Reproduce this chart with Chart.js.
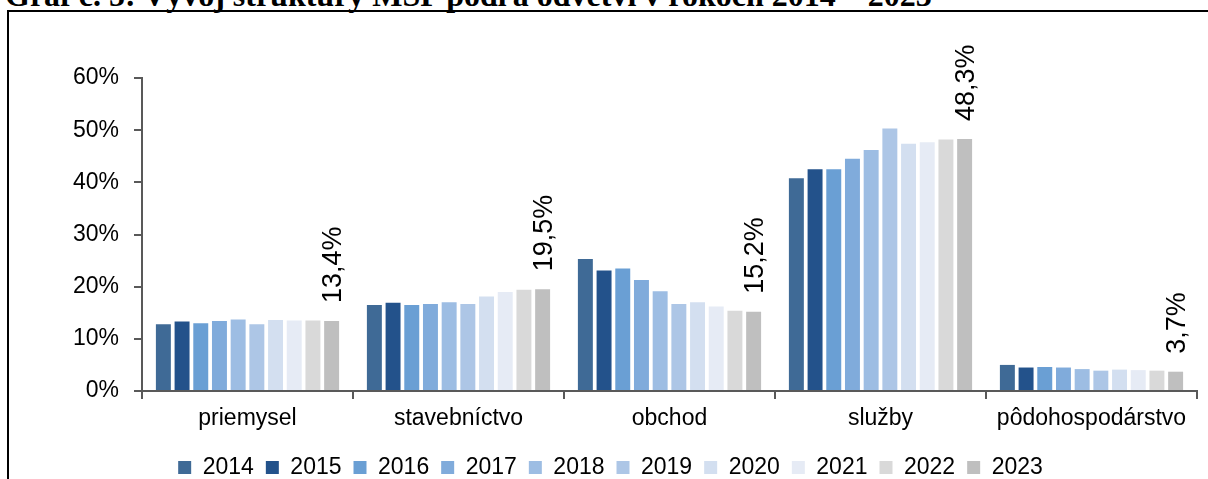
<!DOCTYPE html>
<html>
<head>
<meta charset="utf-8">
<script src="https://cdn.jsdelivr.net/npm/chart.js@4.4.1/dist/chart.umd.min.js"></script>
<style>
  html, body { margin: 0; padding: 0; background: #fff; overflow: hidden; }
  #wrap { position: relative; width: 1208px; height: 479px; overflow: hidden; }
  #title {
    position: absolute; left: 5px; top: -23px; white-space: nowrap;
    font: bold 32px "Liberation Serif", "Times New Roman", serif; color: #000;
  }
  #frame {
    position: absolute; left: 7px; top: 10px; width: 1400px; height: 600px;
    border-left: 2px solid #000; border-top: 2px solid #000;
  }
  #graf { position: absolute; left: 0; top: 0; }
</style>
</head>
<body>
<div id="wrap">
  <div id="title">Graf č. 5: Vývoj štruktúry MSP podľa odvetví v rokoch 2014 – 2023</div>
  <div id="frame"></div>
  <canvas id="graf" width="1208" height="489"></canvas>
</div>
<script>
const odvetvia = ['priemysel', 'stavebníctvo', 'obchod', 'služby', 'pôdohospodárstvo'];
const roky = ['2014', '2015', '2016', '2017', '2018', '2019', '2020', '2021', '2022', '2023'];

// podiel odvetvi v % podla rokov (priemysel, stavebnictvo, obchod, sluzby, podohospodarstvo)
const r2014 = [12.8, 16.5, 25.3, 40.8, 5.0];
const r2015 = [13.3, 16.9, 23.1, 42.5, 4.5];
const r2016 = [13.0, 16.5, 23.5, 42.5, 4.6];
const r2017 = [13.4, 16.7, 21.3, 44.5, 4.5];
const r2018 = [13.7, 17.0, 19.1, 46.2, 4.2];
const r2019 = [12.8, 16.7, 16.7, 50.3, 3.9];
const r2020 = [13.6, 18.1, 17.0, 47.4, 4.1];
const r2021 = [13.5, 19.0, 16.2, 47.7, 4.0];
const r2022 = [13.5, 19.4, 15.4, 48.2, 3.9];
const r2023 = [13.4, 19.5, 15.2, 48.3, 3.7];

const hodnoty = [r2014, r2015, r2016, r2017, r2018, r2019, r2020, r2021, r2022, r2023];
const farby = ['#3f6a96', '#23528b', '#6a9fd4', '#80abdb', '#9dbde3',
               '#adc6e6', '#d3dff0', '#e6ebf5', '#d9d9d9', '#bfbfbf'];

const pismo = '"Liberation Sans", Arial, sans-serif';

// popisky nad poslednym rokom, otocene o 90 stupnov
const popisky = {
  id: 'popisky',
  afterDatasetsDraw(chart) {
    const posledny = chart.data.datasets.length - 1;
    const meta = chart.getDatasetMeta(posledny);
    const ctx = chart.ctx;
    ctx.save();
    ctx.font = '27px ' + pismo;
    ctx.fillStyle = '#000';
    ctx.textAlign = 'left';
    ctx.textBaseline = 'middle';
    meta.data.forEach((bar, i) => {
      const v = chart.data.datasets[posledny].data[i];
      ctx.save();
      ctx.translate(bar.x + 2, bar.y - 18);
      ctx.rotate(-Math.PI / 2);
      ctx.fillText(v.toFixed(1).replace('.', ',') + '%', 0, 0);
      ctx.restore();
    });
    ctx.restore();
  }
};

new Chart(document.getElementById('graf'), {
  type: 'bar',
  data: {
    labels: odvetvia,
    datasets: roky.map((rok, i) => ({
      label: rok,
      data: hodnoty[i],
      backgroundColor: farby[i],
      barPercentage: 0.8,
      categoryPercentage: 0.886
    }))
  },
  options: {
    responsive: false,
    animation: false,
    devicePixelRatio: 1,
    layout: { padding: { top: 78, right: 11, left: 24, bottom: 0 } },
    plugins: {
      legend: {
        position: 'bottom',
        labels: {
          color: '#000',
          font: { family: pismo, size: 23 },
          boxWidth: 13,
          boxHeight: 13,
          padding: 12
        }
      },
      tooltip: { enabled: false }
    },
    scales: {
      x: {
        grid: { offset: true, drawOnChartArea: false, tickLength: 8, color: '#595959', lineWidth: 2 },
        border: { color: '#595959', width: 2 },
        ticks: { color: '#000', font: { family: pismo, size: 23 }, padding: 6, maxRotation: 0 },
        afterFit(scale) { scale.height = 53; }
      },
      y: {
        min: 0,
        max: 60,
        grid: { drawOnChartArea: false, tickLength: 8, color: '#595959', lineWidth: 2 },
        border: { color: '#595959', width: 2 },
        ticks: {
          stepSize: 10,
          color: '#000',
          font: { family: pismo, size: 23 },
          padding: 15,
          callback: v => v + '%'
        },
        afterFit(scale) { scale.width = 118; }
      }
    }
  },
  plugins: [popisky]
});
</script>
</body>
</html>
